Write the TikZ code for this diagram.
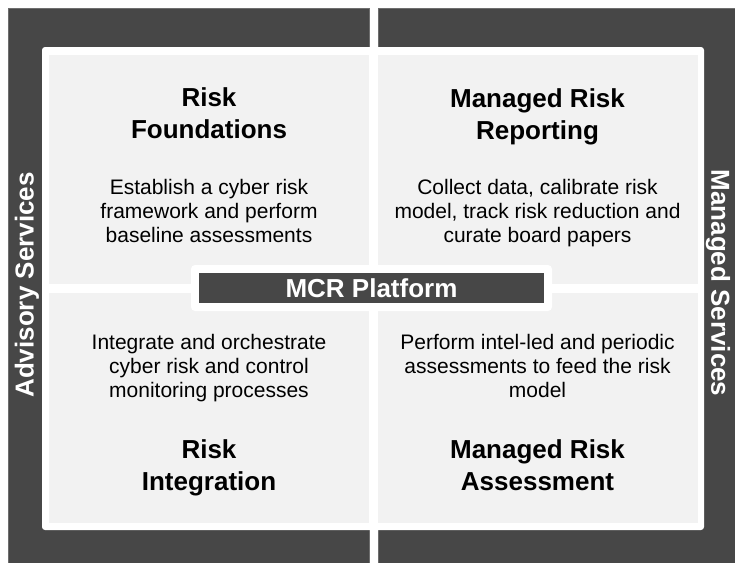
\documentclass[tikz,border=0pt]{standalone}
\usepackage{fontspec}
\setmainfont{Liberation Sans}
\definecolor{bandgrey}{HTML}{474747}
\definecolor{bandedge}{HTML}{6E6E6E}
\definecolor{quadgrey}{HTML}{F2F2F2}
\tikzset{
  band/.style={fill=bandgrey, draw=bandedge, line width=0.8pt},
  quad/.style={fill=quadgrey, inner sep=0pt, minimum width=320pt, minimum height=229.5pt},
  quadtitle/.style={font=\bfseries\fontsize{26}{32}\selectfont, align=center, inner sep=0pt},
  quadtext/.style={font=\fontsize{21}{24}\selectfont, align=center, inner sep=0pt},
  sidelabel/.style={font=\bfseries\fontsize{26}{32}\selectfont, text=white, inner sep=0pt},
  platform/.style={fill=bandgrey, text=white, font=\bfseries\fontsize{26}{32}\selectfont,
    inner sep=0pt, minimum width=345pt, minimum height=30pt}
}
\begin{document}
\begin{tikzpicture}[x=1pt,y=-1pt]
  \useasboundingbox (0,0) rectangle (735,562);
  % dark bands behind
  \draw [band] (8,8) rectangle (369,570);
  \draw [band] (378,8) rectangle (745,570);
  \fill [white, rounded corners=3pt] (42,47) rectangle (704,530);
  % four quadrants
  \foreach \q/\x/\y in {tl/209/169.5, tr/537.5/169.5, bl/209/408, br/537.5/408}
    \node [quad] (\q) at (\x,\y) {};
  \node [sidelabel, rotate=90] (advisory) at (27,285) {Advisory Services};
  \node [sidelabel, rotate=-90] (managed) at (718,283) {Managed Services};
  % quadrant texts
  \node [quadtitle] (tl-title) at (209,113.7) {Risk\\Foundations};
  \node [quadtext] (tl-text) at (209,210.5) {Establish a cyber risk\\framework and perform\\baseline assessments};
  \node [quadtitle] (tr-title) at (537.5,116.4) {Managed Risk\\Reporting};
  \node [quadtext] (tr-text) at (537.5,213.5) {Collect data, calibrate risk\\model, track risk reduction and\\curate board papers};
  \node [quadtext] (bl-text) at (209,368.5) {Integrate and orchestrate\\cyber risk and control\\monitoring processes};
  \node [quadtitle] (bl-title) at (209,467.4) {Risk\\Integration};
  \node [quadtext] (br-text) at (537.5,366) {Perform intel-led and periodic\\assessments to feed the risk\\model};
  \node [quadtitle] (br-title) at (537.5,464.7) {Managed Risk\\Assessment};
  % platform bar
  \fill [white, rounded corners=4pt] (191,265) rectangle (552,311);
  \node [platform] (mcr) at (371.5,288) {MCR Platform};
\end{tikzpicture}
\end{document}
